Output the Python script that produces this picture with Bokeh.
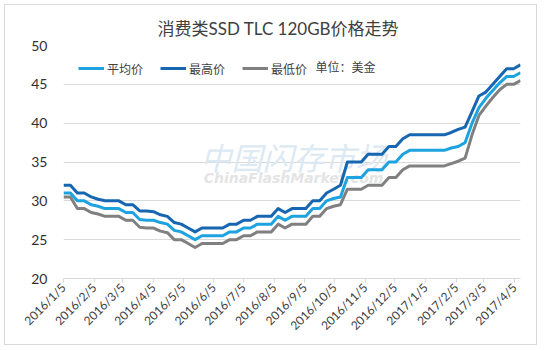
import pandas as pd
from datetime import datetime
from bokeh.plotting import figure
from bokeh.models import (ColumnDataSource, FixedTicker, Legend, LegendItem,
                          Label, Range1d, Title)
from bokeh.embed import file_html
from bokeh.resources import INLINE
from math import pi

# ---------------- data ----------------
title_text = "消费类SSD TLC 120GB价格走势"
series_names = ["平均价", "最高价", "最低价"]
unit_text = "单位：美金"
watermark_cn = "中国闪存市场"
watermark_en = "ChinaFlashMarket.com"

week_dates = pd.date_range("2016-01-05", "2017-04-11", freq="7D")

avg_price = [31, 31, 30, 30, 29.5, 29.3, 29, 29, 29, 28.5, 28.5, 27.6, 27.5, 27.5,
             27.2, 27, 26.2, 26, 25.5, 25, 25.5, 25.5, 25.5, 25.5, 26, 26, 26.5,
             26.5, 27, 27, 27, 28, 27.5, 28, 28, 28, 29, 29, 30, 30.3, 30.5, 33,
             33, 33, 34, 34, 34, 35, 35, 36, 36.5, 36.5, 36.5, 36.5, 36.5, 36.5,
             36.8, 37, 37.5, 40, 42, 43.2, 44.2, 45.2, 46, 46, 46.5]
high_price = [32, 32, 31, 31, 30.5, 30.2, 30, 30, 30, 29.5, 29.5, 28.7, 28.7, 28.6,
              28.2, 28, 27.2, 27, 26.5, 26, 26.5, 26.5, 26.5, 26.5, 27, 27, 27.5,
              27.5, 28, 28, 28, 29, 28.5, 29, 29, 29, 30, 30, 31, 31.5, 32, 35,
              35, 35, 36, 36, 36, 37, 37, 38, 38.5, 38.5, 38.5, 38.5, 38.5, 38.5,
              38.8, 39.2, 39.5, 41.5, 43.5, 44, 45, 46, 47, 47, 47.5]
low_price = [30.5, 30.5, 29, 29, 28.5, 28.3, 28, 28, 28, 27.5, 27.5, 26.6, 26.5, 26.5,
             26.1, 25.9, 25, 25, 24.5, 24, 24.5, 24.5, 24.5, 24.5, 25, 25, 25.5,
             25.5, 26, 26, 26, 27, 26.5, 27, 27, 27, 28, 28, 29, 29.3, 29.5, 31.5,
             31.5, 31.5, 32, 32, 32, 33, 33, 34, 34.5, 34.5, 34.5, 34.5, 34.5, 34.5,
             34.8, 35.1, 35.5, 38.5, 41, 42.2, 43.3, 44.3, 45, 45, 45.5]

tick_labels = ["2016/1/5", "2016/2/5", "2016/3/5", "2016/4/5", "2016/5/5",
               "2016/6/5", "2016/7/5", "2016/8/5", "2016/9/5", "2016/10/5",
               "2016/11/5", "2016/12/5", "2017/1/5", "2017/2/5", "2017/3/5",
               "2017/4/5"]
y_ticks = [20, 25, 30, 35, 40, 45, 50]

# ---------------- helpers ----------------
def to_ms(ts):
    return pd.Timestamp(ts).value / 1e6

x_vals = [to_ms(d) for d in week_dates]
tick_pos = [to_ms(datetime.strptime(s, "%Y/%m/%d")) for s in tick_labels]

src = ColumnDataSource(dict(x=x_vals, avg=avg_price, high=high_price, low=low_price))

CJK = "Lato, 'Noto Sans CJK SC'"
TXT = "#404040"

p = figure(width=533, height=341, output_backend="svg", toolbar_location=None,
           x_range=Range1d(x_vals[0], x_vals[-1]), y_range=Range1d(20, 50),
           min_border_left=58, min_border_right=18, min_border_top=40,
           min_border_bottom=68)
p.styles = {"border": "1px solid #D9D9D9", "margin-left": "4px", "margin-top": "4px"}
p.outline_line_color = None
p.background_fill_color = "white"
p.border_fill_color = "white"

# title
p.add_layout(Title(text=title_text, align="left", offset=94, standoff=13,
                   text_font=CJK, text_font_size="17px", text_font_style="normal",
                   text_color=TXT), "above")

# watermark
p.add_layout(Label(x=230, y=122, x_units="screen", y_units="screen", text=watermark_cn,
                   text_font="'Noto Sans CJK SC'", text_font_size="31px",
                   text_font_style="italic",
                   text_color="#DCE9F2", text_align="center", text_baseline="middle",
                   level="underlay"))
p.add_layout(Label(x=230, y=101, x_units="screen", y_units="screen", text=watermark_en,
                   text_font="'DejaVu Sans'", text_font_size="14px",
                   text_font_style="bold italic",
                   text_color="#E4E4E4", text_align="center", text_baseline="middle",
                   level="underlay"))

r_avg = p.line("x", "avg", source=src, line_color="#1CA3E0", line_width=3, line_join="round")
r_high = p.line("x", "high", source=src, line_color="#1766B1", line_width=3, line_join="round")
r_low = p.line("x", "low", source=src, line_color="#808080", line_width=3, line_join="round")

# axes
p.xaxis.ticker = FixedTicker(ticks=tick_pos)
p.xaxis.major_label_overrides = {t: s for t, s in zip(tick_pos, tick_labels)}
p.xaxis.major_label_orientation = pi / 4
p.xaxis.axis_line_color = "#D9D9D9"
p.xaxis.major_tick_line_color = "#D9D9D9"
p.xaxis.major_tick_out = 4
p.xaxis.major_tick_in = 0
p.xaxis.minor_tick_line_color = None
p.xaxis.major_label_standoff = 3
p.xaxis.major_label_text_font = CJK
p.xaxis.major_label_text_font_size = "12px"
p.xaxis.major_label_text_color = TXT

p.yaxis.ticker = FixedTicker(ticks=y_ticks)
p.yaxis.axis_line_color = None
p.yaxis.major_tick_line_color = None
p.yaxis.minor_tick_line_color = None
p.yaxis.major_label_standoff = 10
p.yaxis.major_label_text_font = CJK
p.yaxis.major_label_text_font_size = "14px"
p.yaxis.major_label_text_color = "#303030"

p.xgrid.grid_line_color = None
p.ygrid.ticker = FixedTicker(ticks=y_ticks)
p.ygrid.grid_line_color = "#D9D9D9"
p.ygrid.grid_line_width = 1

# legend
legend = Legend(items=[LegendItem(label=series_names[0], renderers=[r_avg]),
                       LegendItem(label=series_names[1], renderers=[r_high]),
                       LegendItem(label=series_names[2], renderers=[r_low])],
                orientation="horizontal", location=(15, 200),
                glyph_width=26, glyph_height=20, label_standoff=3, spacing=17,
                padding=0, margin=0, border_line_color=None, background_fill_alpha=0,
                label_text_font=CJK, label_text_font_size="12px",
                label_text_color=TXT, label_height=20)
p.add_layout(legend, "center")

p.add_layout(Label(x=252, y=211, x_units="screen", y_units="screen", text=unit_text,
                   text_font=CJK, text_font_size="12px", text_color=TXT,
                   text_baseline="middle"))

open("out.html", "w").write(file_html(p, INLINE))
